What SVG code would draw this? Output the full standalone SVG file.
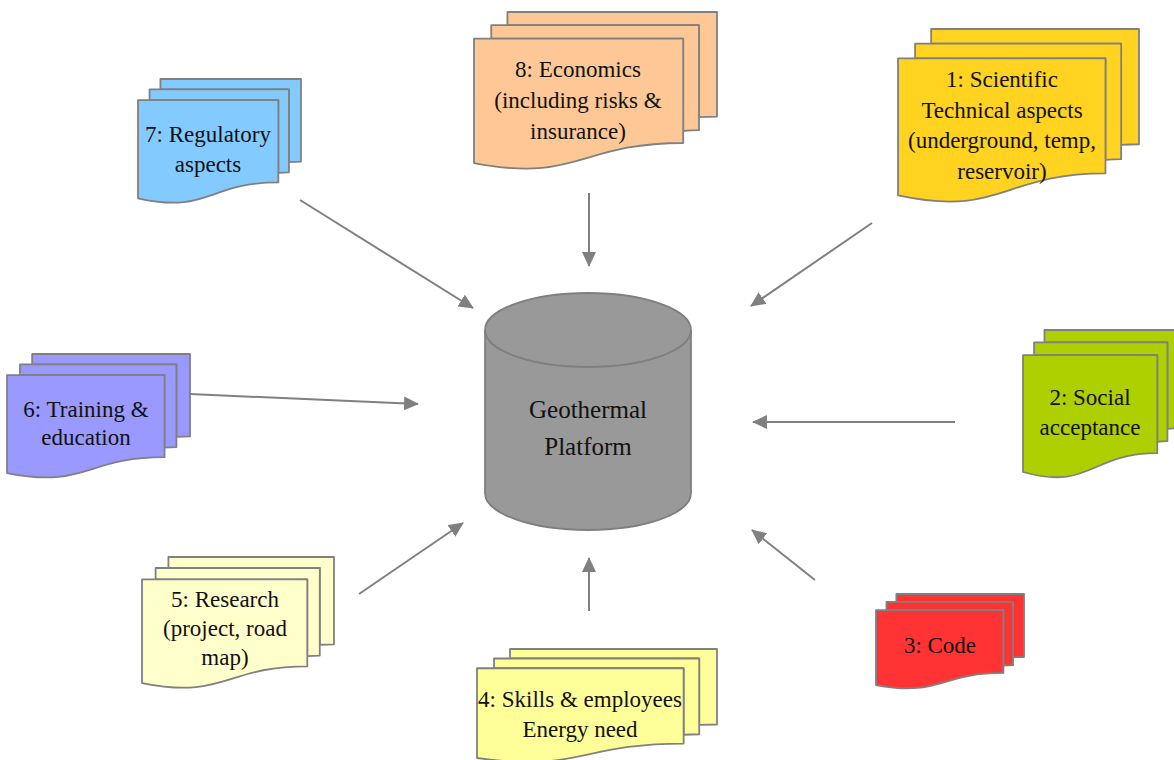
<svg xmlns="http://www.w3.org/2000/svg" xmlns:xlink="http://www.w3.org/1999/xlink" width="1174" height="760" viewBox="0 0 1174 760">
<style>
.pg{stroke:#808080;stroke-width:1.8;vector-effect:non-scaling-stroke;stroke-linejoin:round}
text{font-family:'Liberation Serif','Times New Roman',serif;font-size:23px;fill:#111;text-anchor:middle}
.big{font-size:25px}
.con line{stroke:#808080;stroke-width:2;marker-end:url(#ah)}
.cyl{fill:#999999;stroke:#7f7f7f;stroke-width:1.8}
</style>
<defs>
<marker id="ah" markerWidth="15" markerHeight="14" refX="14" refY="7" orient="auto" markerUnits="userSpaceOnUse">
<path d="M0,0 L15,7 L0,14 Z" fill="#808080"/>
</marker>
<g id="md">
<path class="pg" d="M13.76,8.40 V0 H100 V66.63 C96.30,66.63 92.59,66.98 92.59,66.98 V8.40 Z"/>
<path class="pg" d="M7.09,17.01 V8.40 H92.59 V75.24 C89.34,75.24 86.09,75.70 86.09,75.70 V17.01 Z"/>
<path class="pg" d="M0,96.21 C43.05,108.99 43.05,83.44 86.09,83.44 V17.01 H0 Z"/>
</g>
</defs>
<rect width="1174" height="760" fill="#ffffff"/>

<g id="connectors" class="con">
<line x1="300" y1="200" x2="473" y2="308"/>
<line x1="589" y1="193" x2="589" y2="266"/>
<line x1="872" y1="223" x2="751" y2="306"/>
<line x1="955" y1="422" x2="753" y2="422"/>
<line x1="815" y1="580" x2="752" y2="530"/>
<line x1="589" y1="611" x2="589" y2="558"/>
<line x1="359" y1="594" x2="463" y2="523"/>
<line x1="190" y1="394" x2="418" y2="404"/>
</g>

<g id="platform">
<path class="cyl" d="M485,330 V493 A103,37 0 0 0 691,493 V330"/>
<ellipse class="cyl" cx="588" cy="330" rx="103" ry="37"/>
<text class="big" x="588" y="418">Geothermal</text>
<text class="big" x="588" y="455">Platform</text>
</g>

<g id="n7">
<use xlink:href="#md" fill="#83CAFF" transform="translate(138,79) scale(1.63,1.24)"/>
<text x="208" y="142">7: Regulatory</text>
<text x="208" y="172">aspects</text>
</g>

<g id="n8">
<use xlink:href="#md" fill="#FDC895" transform="translate(474,12) scale(2.43,1.57)"/>
<text x="578" y="77">8: Economics</text>
<text x="578" y="108">(including risks &amp;</text>
<text x="578" y="139">insurance)</text>
</g>

<g id="n1">
<use xlink:href="#md" fill="#FFD320" transform="translate(898,29) scale(2.41,1.73)"/>
<text x="1002" y="87">1: Scientific</text>
<text x="1002" y="118">Technical aspects</text>
<text x="1002" y="148">(underground, temp,</text>
<text x="1002" y="179">reservoir)</text>
</g>

<g id="n2">
<use xlink:href="#md" fill="#AECF00" transform="translate(1023,330) scale(1.56,1.476)"/>
<text x="1090" y="405">2: Social</text>
<text x="1090" y="435">acceptance</text>
</g>

<g id="n3">
<use xlink:href="#md" fill="#FF3333" transform="translate(876,594) scale(1.48,0.946)"/>
<text x="940" y="653">3: Code</text>
</g>

<g id="n4">
<use xlink:href="#md" fill="#FFFF99" transform="translate(477,649) scale(2.40,1.133)"/>
<text x="580" y="707">4: Skills &amp; employees</text>
<text x="580" y="737">Energy need</text>
</g>

<g id="n5">
<use xlink:href="#md" fill="#FFFFCC" transform="translate(142,557) scale(1.92,1.31)"/>
<text x="225" y="607">5: Research</text>
<text x="225" y="636">(project, road</text>
<text x="225" y="665">map)</text>
</g>

<g id="n6">
<use xlink:href="#md" fill="#9999FF" transform="translate(7,354) scale(1.83,1.237)"/>
<text x="86" y="417">6: Training &amp;</text>
<text x="86" y="445">education</text>
</g>
</svg>
